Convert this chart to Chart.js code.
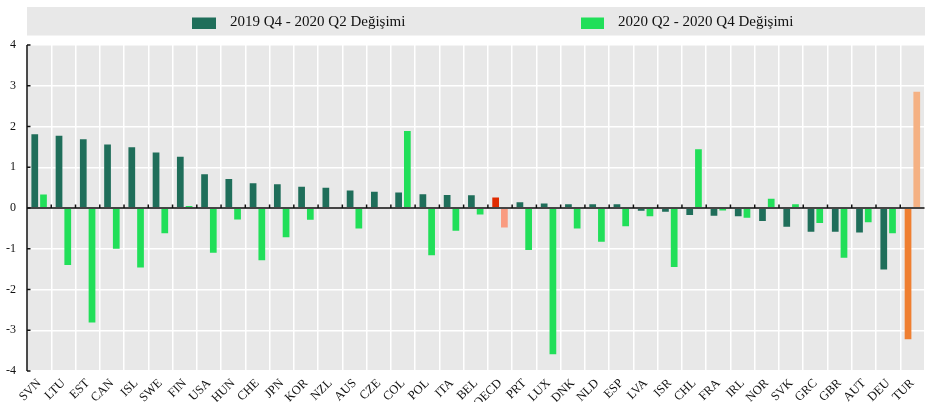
<!DOCTYPE html>
<html>
<head>
<meta charset="utf-8">
<script src="https://cdn.jsdelivr.net/npm/chart.js@4/dist/chart.umd.min.js"></script>
<style>
  html, body { margin: 0; padding: 0; background: #fff; overflow: hidden; }
  #wrap { width: 925px; height: 402px; overflow: hidden; position: relative; }
  canvas { display: block; }
</style>
</head>
<body>
<div id="wrap"><canvas id="c" width="928" height="402" style="width:928px;height:402px"></canvas></div>
<script>
const categories = ["SVN","LTU","EST","CAN","ISL","SWE","FIN","USA","HUN","CHE","JPN","KOR","NZL","AUS","CZE","COL","POL","ITA","BEL","OECD","PRT","LUX","DNK","NLD","ESP","LVA","ISR","CHL","FRA","IRL","NOR","SVK","GRC","GBR","AUT","DEU","TUR"];
const seriesNames = ["2019 Q4 - 2020 Q2 Değişimi", "2020 Q2 - 2020 Q4 Değişimi"];
const change2019Q4to2020Q2 = [1.81,1.77,1.69,1.56,1.49,1.36,1.26,0.83,0.71,0.61,0.58,0.52,0.50,0.43,0.40,0.38,0.34,0.32,0.31,0.26,0.14,0.11,0.09,0.09,0.09,-0.07,-0.09,-0.17,-0.19,-0.20,-0.32,-0.46,-0.58,-0.58,-0.60,-1.51,-3.22];
const change2020Q2to2020Q4 = [0.33,-1.40,-2.81,-1.00,-1.46,-0.62,0.05,-1.10,-0.28,-1.28,-0.72,-0.29,0,-0.50,0,1.89,-1.16,-0.56,-0.16,-0.48,-1.03,-3.59,-0.50,-0.83,-0.45,-0.20,-1.45,1.44,-0.06,-0.24,0.23,0.09,-0.37,-1.22,-0.35,-0.62,2.85];
const yTicks = [-4,-3,-2,-1,0,1,2,3,4];

const DARK = '#1f6e5a', BRIGHT = '#21df59';
const special1 = { OECD: '#e02a00', TUR: '#ef7f31' };
const special2 = { OECD: '#f99b80', TUR: '#f5b183' };
const colors1 = categories.map(c => special1[c] || DARK);
const colors2 = categories.map(c => special2[c] || BRIGHT);
const legendColors = [DARK, BRIGHT];
const SERIF = '"Liberation Serif", "Times New Roman", serif';
const PANEL = '#e8e8e8';

const decorPlugin = {
  id: 'decor',
  beforeDraw(chart) {
    const { ctx, chartArea: a } = chart;
    ctx.save();
    ctx.fillStyle = '#fff';
    ctx.fillRect(0, 0, chart.width, chart.height);
    // legend panel
    ctx.fillStyle = PANEL;
    ctx.fillRect(a.left, 7, chart.width - a.left, 28.5);
    const boxes = [{x: 192, w: 24}, {x: 581, w: 23}];
    ctx.font = '15px ' + SERIF;
    ctx.textBaseline = 'middle';
    chart.data.datasets.forEach((ds, i) => {
      ctx.fillStyle = legendColors[i];
      ctx.fillRect(boxes[i].x, 17.5, boxes[i].w, 11.5);
      ctx.fillStyle = '#111';
      ctx.fillText(ds.label, boxes[i].x + boxes[i].w + 14, 22.5);
    });
    // plot panel
    ctx.fillStyle = PANEL;
    ctx.fillRect(a.left, a.top, a.right - a.left, a.bottom - a.top);
    ctx.restore();
  },
  afterDatasetsDraw(chart) {
    const { ctx, chartArea: a, scales } = chart;
    const x = scales.x, y = scales.y;
    const y0 = y.getPixelForValue(0);
    ctx.save();
    ctx.strokeStyle = '#444';
    ctx.lineWidth = 2;
    ctx.beginPath();
    ctx.moveTo(a.left, y0);
    ctx.lineTo(a.right, y0);
    ctx.stroke();
    ctx.strokeStyle = '#111';
    ctx.lineWidth = 1.5;
    const n = categories.length;
    const step = (x.getPixelForValue(1) - x.getPixelForValue(0));
    for (let i = 1; i < n; i++) {
      const px = x.getPixelForValue(i) - step / 2;
      ctx.beginPath();
      ctx.moveTo(px, y0 - 3.5);
      ctx.lineTo(px, y0);
      ctx.stroke();
    }
    ctx.beginPath();
    ctx.moveTo(a.left, a.top);
    ctx.lineTo(a.left, a.bottom);
    ctx.stroke();
    yTicks.forEach(v => {
      const py = y.getPixelForValue(v);
      ctx.beginPath();
      ctx.moveTo(a.left, py);
      ctx.lineTo(a.left + 3.5, py);
      ctx.stroke();
    });
    ctx.restore();
  }
};

new Chart(document.getElementById('c'), {
  type: 'bar',
  data: {
    labels: categories,
    datasets: [
      { label: seriesNames[0], data: change2019Q4to2020Q2, backgroundColor: colors1,
        categoryPercentage: 0.72, barPercentage: 0.77 },
      { label: seriesNames[1], data: change2020Q2to2020Q4, backgroundColor: colors2,
        categoryPercentage: 0.72, barPercentage: 0.77 }
    ]
  },
  options: {
    responsive: false,
    animation: false,
    layout: { padding: { top: 45, left: 0, right: 0, bottom: 0 } },
    plugins: { legend: { display: false }, tooltip: { enabled: false } },
    scales: {
      x: {
        grid: { color: '#ffffff', lineWidth: 1.5, drawTicks: false, offset: true },
        border: { display: false },
        ticks: { autoSkip: false, maxRotation: 45, minRotation: 45, padding: 5,
                 color: '#111', font: { family: SERIF, size: 12.5 } },
        afterFit(s) { s.height = 31; }
      },
      y: {
        min: -4, max: 4,
        grid: { color: '#ffffff', lineWidth: 1.5, drawTicks: false },
        border: { display: false },
        ticks: { stepSize: 1, padding: 11, color: '#111', font: { family: SERIF, size: 12 } },
        afterFit(s) { s.width = 27; }
      }
    }
  },
  plugins: [decorPlugin]
});
</script>
</body>
</html>
